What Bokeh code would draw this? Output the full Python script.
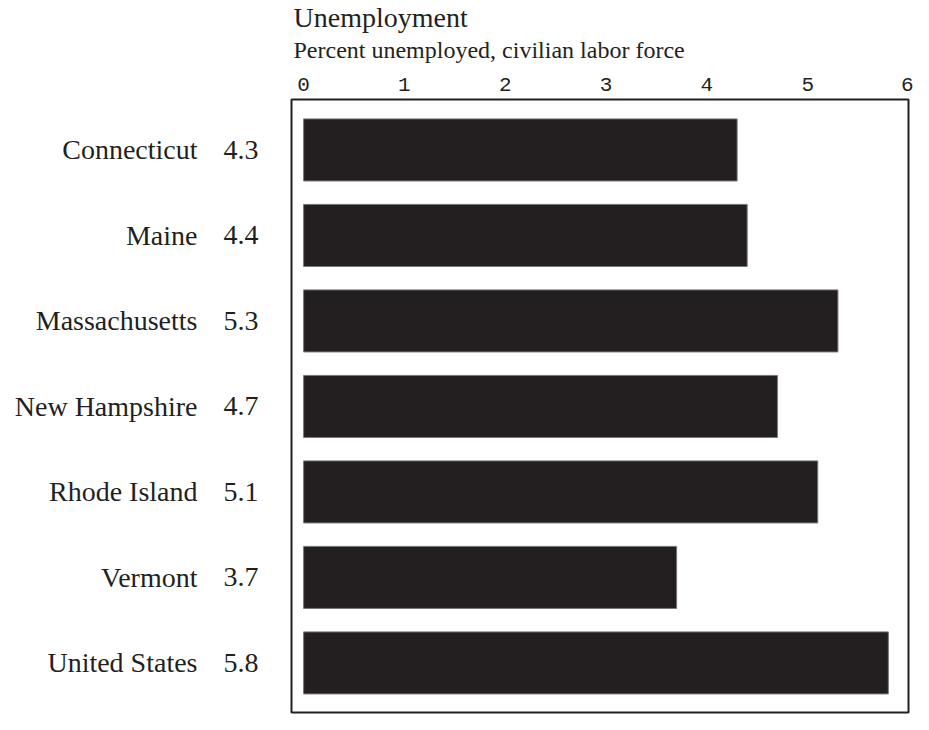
from bokeh.plotting import figure
from bokeh.models import (ColumnDataSource, Range1d, FixedTicker, LinearAxis, Title)
from bokeh.embed import file_html
from bokeh.resources import INLINE

# ---- data ----
states = ["Connecticut", "Maine", "Massachusetts", "New Hampshire",
          "Rhode Island", "Vermont", "United States"]
unemployment = [4.3, 4.4, 5.3, 4.7, 5.1, 3.7, 5.8]
x_ticks = [0, 1, 2, 3, 4, 5, 6]
title_text = "Unemployment"
subtitle_text = "Percent unemployed, civilian labor force"

INK = "#231f20"
SERIF = "Liberation Serif"

idx = list(range(len(states)))
src = ColumnDataSource(dict(y=idx, value=unemployment))

p = figure(width=913, height=714, output_backend="svg", toolbar_location=None,
           title=None,
           x_range=Range1d(-0.12, 6.0), y_range=Range1d(6.58, -0.59),
           x_axis_location="above", y_axis_location=None,
           min_border_left=291, min_border_right=5,
           min_border_top=99, min_border_bottom=2)

p.hbar(y="y", left=0, right="value", height=0.726, source=src,
       fill_color=INK, line_color="#777777", line_width=1)

p.xgrid.visible = False
p.ygrid.visible = False
p.outline_line_color = INK
p.outline_line_width = 2
p.background_fill_color = "white"
p.border_fill_color = "white"

ax = p.xaxis[0]
ax.ticker = FixedTicker(ticks=x_ticks)
ax.axis_line_color = None
ax.major_tick_line_color = None
ax.minor_tick_line_color = None
ax.major_tick_out = 0
ax.major_tick_in = 0
ax.major_label_standoff = 9
ax.major_label_text_font = "Liberation Mono"
ax.major_label_text_font_size = "21px"
ax.major_label_text_color = INK


def label_axis(labels, standoff):
    a = LinearAxis(ticker=FixedTicker(ticks=idx),
                   major_label_overrides={i: t for i, t in zip(idx, labels)})
    a.axis_line_color = None
    a.major_tick_line_color = None
    a.minor_tick_line_color = None
    a.major_tick_out = 0
    a.major_tick_in = 0
    a.major_label_standoff = standoff
    a.major_label_text_font = SERIF
    a.major_label_text_font_size = "28px"
    a.major_label_text_color = INK
    return a


value_axis = label_axis([f"{v:.1f}" for v in unemployment], 33)
name_axis = label_axis(states, 23)
p.add_layout(value_axis, "left")
p.add_layout(name_axis, "left")

p.add_layout(Title(text=subtitle_text, align="left", offset=2, standoff=23,
                   text_font=SERIF, text_font_size="24px",
                   text_font_style="normal", text_color=INK), "above")
p.add_layout(Title(text=title_text, align="left", offset=2, standoff=-18,
                   text_font=SERIF, text_font_size="28px",
                   text_font_style="normal", text_color=INK), "above")

open("out.html", "w").write(file_html(p, INLINE))
